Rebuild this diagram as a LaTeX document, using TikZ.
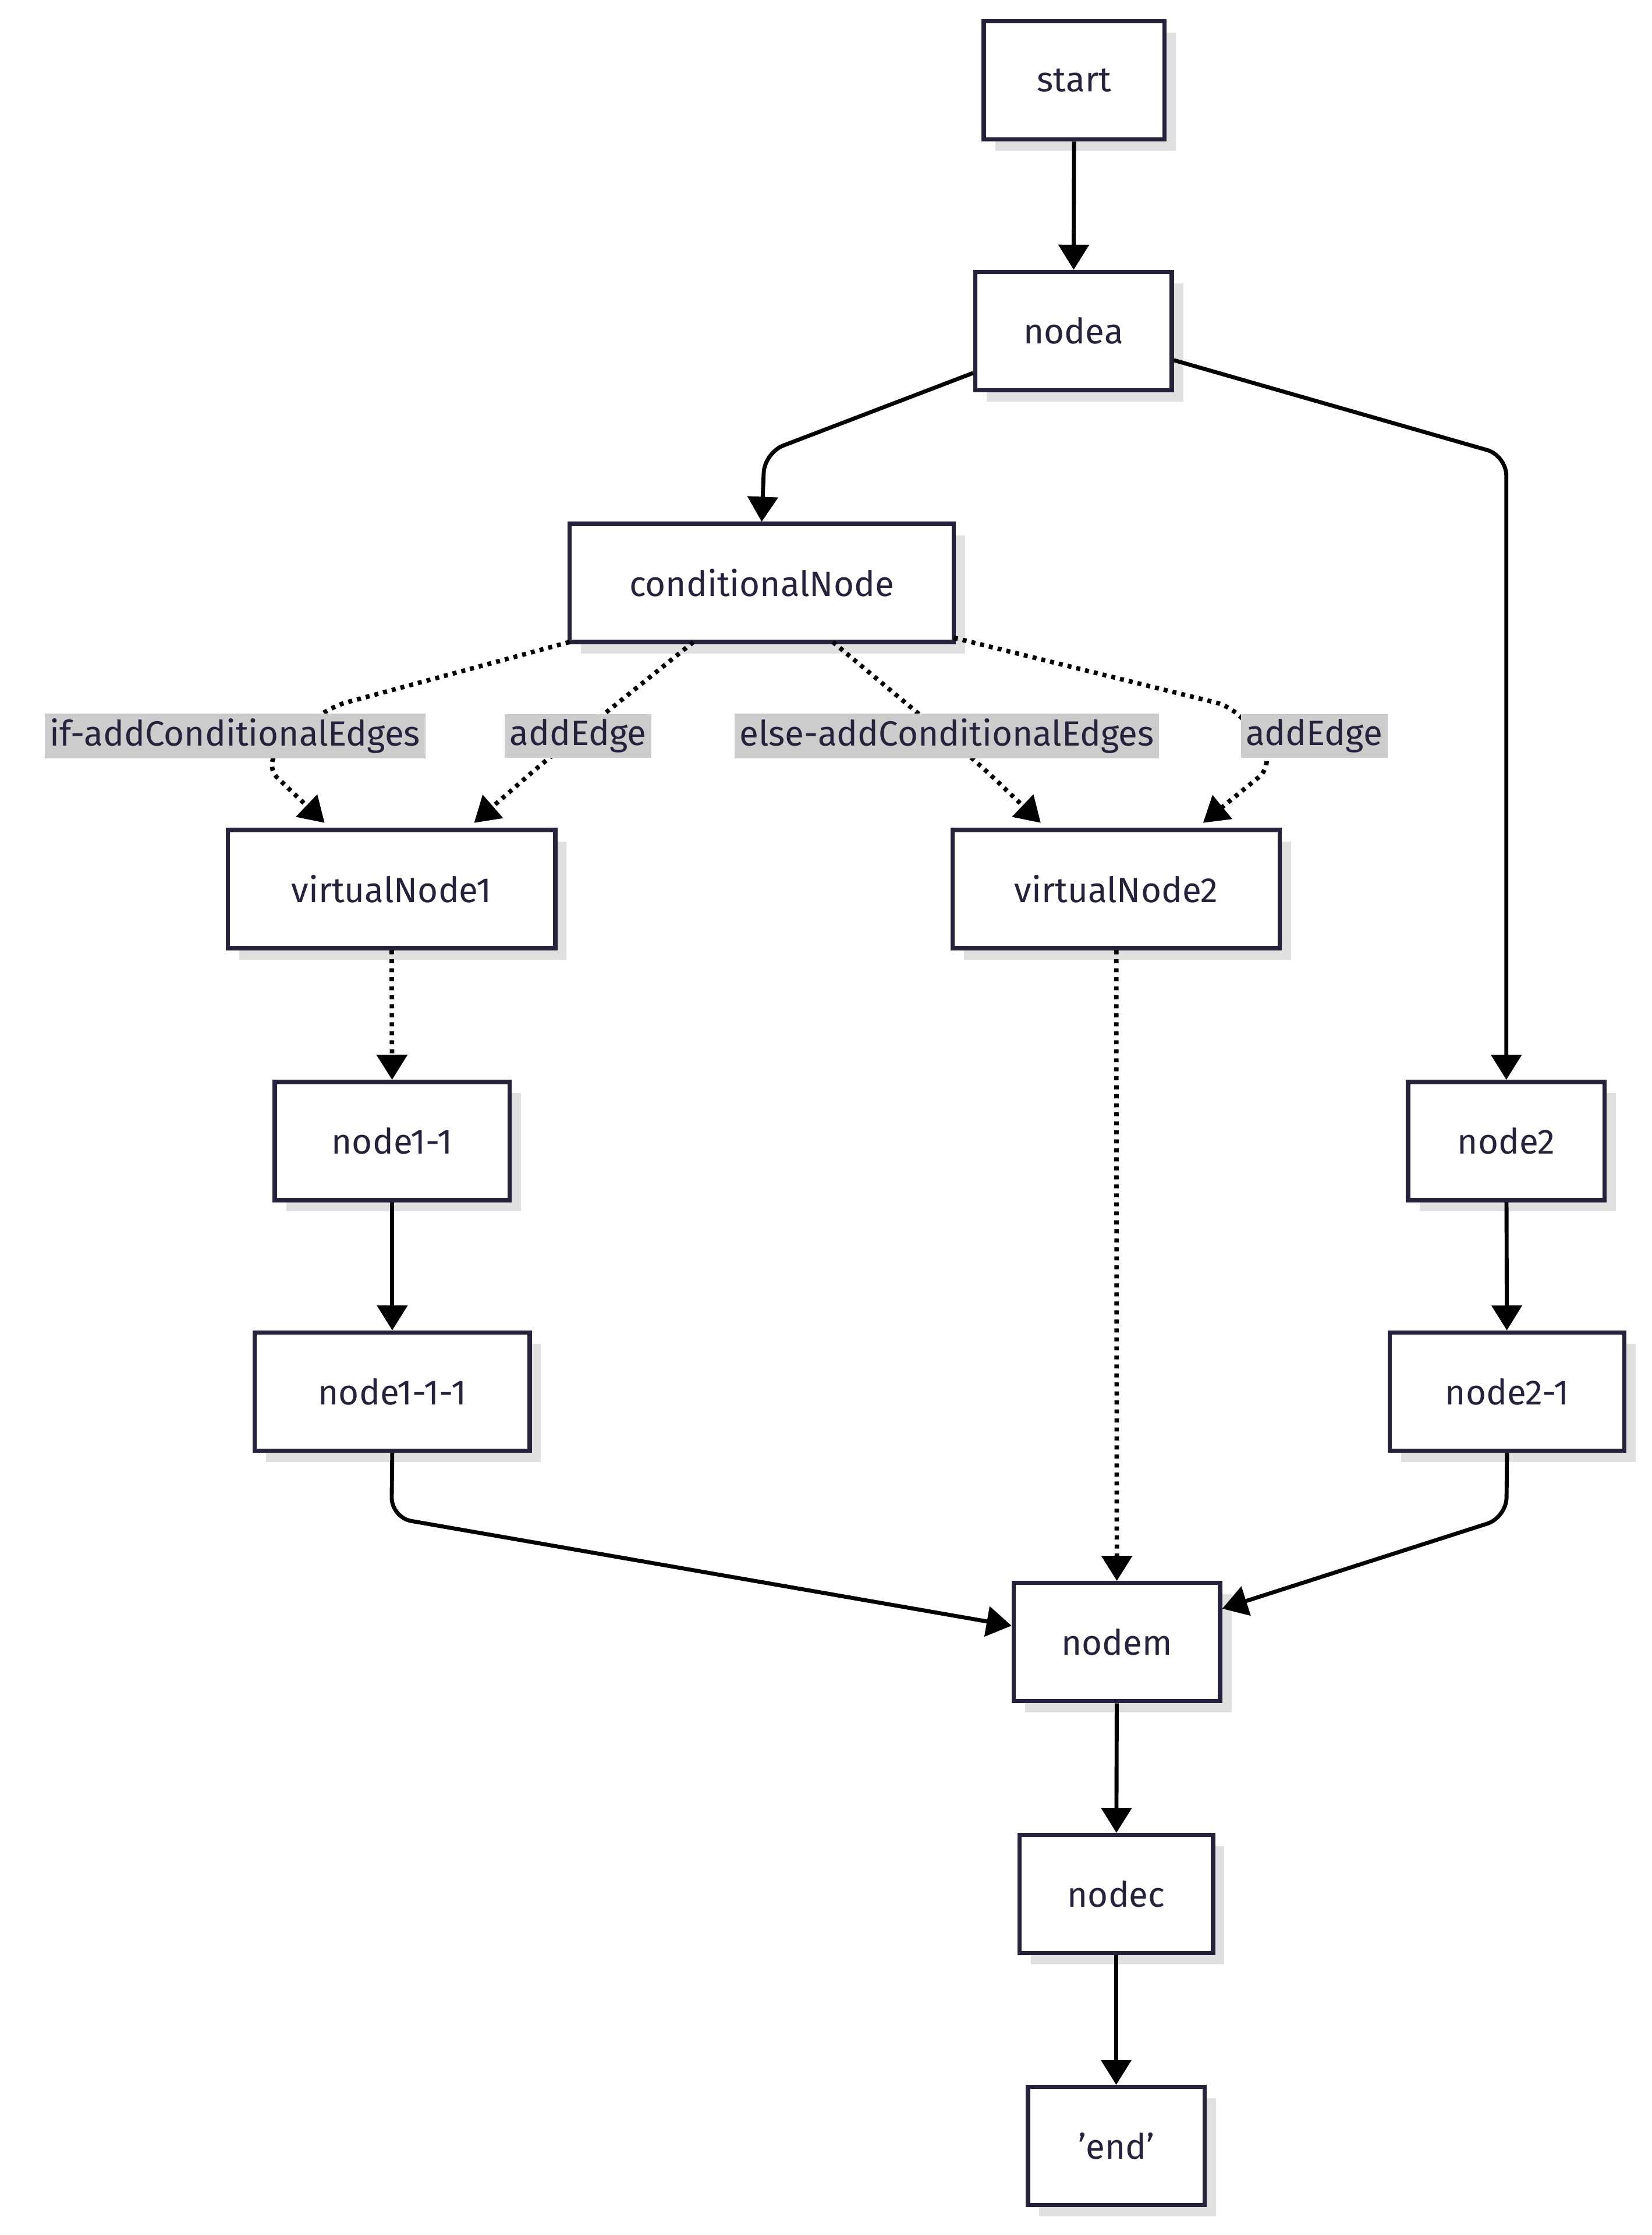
\documentclass[tikz,border=0pt]{standalone}
\usepackage{fontspec}
\setmainfont{Fira Sans}
\usetikzlibrary{arrows.meta,shadows}
\definecolor{bd}{HTML}{26223C}
\begin{document}
\begin{tikzpicture}[x=0.02cm,y=-0.02cm,
 box/.style={draw=bd,line width=1.7pt,fill=white,minimum height=83*0.02cm,inner sep=0pt,font=\fontsize{14}{16}\selectfont,text=bd,
   drop shadow={shadow xshift=8*0.02cm,shadow yshift=-8*0.02cm,fill=black!12,opacity=1}},
 e/.style={line width=1.6pt,rounded corners=14*0.02cm,-{Triangle[length=10pt,width=12pt]}},
 d/.style={e,dotted,line width=1.8pt},
 lab/.style={fill=black!20,inner sep=2pt,font=\fontsize{14}{16}\selectfont,text=bd}]
\useasboundingbox (0,0) rectangle (1160,1570);
\node[box,minimum width=127*0.02cm] (start) at (754.5,56.5) {start};
\node[box,minimum width=138*0.02cm] (nodea) at (754,232.5) {nodea};
\node[box,minimum width=270*0.02cm] (cond) at (535,409.5) {conditionalNode};
\node[box,minimum width=230*0.02cm] (v1) at (275,624.5) {virtualNode1};
\node[box,minimum width=230*0.02cm] (v2) at (784,624.5) {virtualNode2};
\node[box,minimum width=165*0.02cm] (n11) at (275.5,801.5) {node1-1};
\node[box,minimum width=138*0.02cm] (n2) at (1058,801.5) {node2};
\node[box,minimum width=193*0.02cm] (n111) at (275.5,977.5) {node1-1-1};
\node[box,minimum width=165*0.02cm] (n21) at (1058.5,977.5) {node2-1};
\node[box,minimum width=145*0.02cm] (nm) at (784.5,1153.5) {nodem};
\node[box,minimum width=136*0.02cm] (nc) at (784,1330.5) {nodec};
\node[box,minimum width=124*0.02cm] (end) at (784,1507.5) {'end'};
\coordinate (c1) at (400,451); \coordinate (c2) at (487,451);
\coordinate (c3) at (585,451); \coordinate (c4) at (670,448);
\coordinate (t1) at (228,578); \coordinate (t2) at (333,578);
\coordinate (t3) at (731,578); \coordinate (t4) at (845,578);
\draw[d] (c1) -- (230,497) -- (185,537) -- (t1);
\draw[d] (c2) -- (430,497) -- (380,537) -- (t2);
\draw[d] (c3) -- (640,497) -- (688,537) -- (t3);
\draw[d] (c4) -- (868,497) -- (895,537) -- (t4);
\node[lab] at (165,517) {if-addConditionalEdges};
\node[lab] at (406,517) {addEdge};
\node[lab] at (665,517) {else-addConditionalEdges};
\node[lab] at (923,517) {addEdge};
\draw[e] (start) -- (nodea);
\draw[e] (nodea.west |- 0,262) -- (537,318) -- (cond.north);
\draw[e] (nodea.east |- 0,253) -- (1058,320) -- (n2.north);
\draw[d] (v1) -- (n11);
\draw[d] (v2) -- (nm);
\draw[e] (n11) -- (n111);
\draw[e] (n2) -- (n21);
\draw[e] (n111.south) -- (275,1066) -- (nm.west |- 0,1142);
\draw[e] (n21.south) -- (1058,1066) -- (nm.east |- 0,1130);
\draw[e] (nm) -- (nc);
\draw[e] (nc) -- (end);
\end{tikzpicture}
\end{document}
